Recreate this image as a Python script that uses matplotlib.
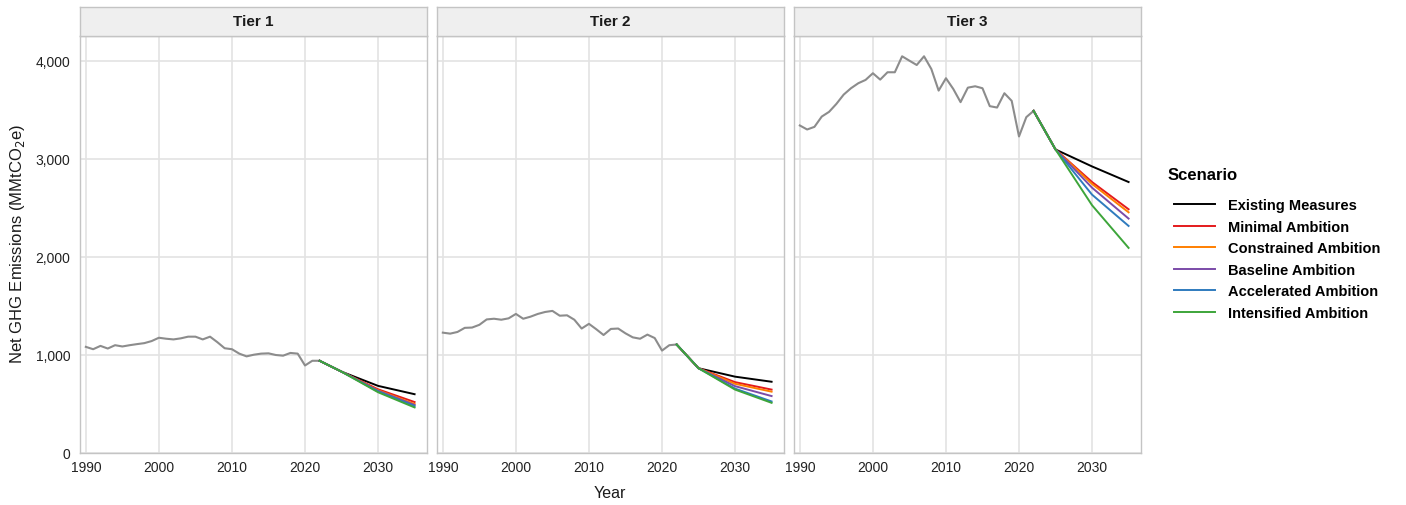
import numpy as np
import matplotlib
matplotlib.use("Agg")
import matplotlib.pyplot as plt
from matplotlib.ticker import FuncFormatter

plt.rcParams['font.family'] = ['Liberation Sans', 'DejaVu Sans']

# historical net emissions 1990-2022 (MMtCO2e)
hist_years = list(range(1990, 2023))
tier1_hist = [1083, 1059, 1093, 1066, 1100, 1087, 1100, 1111, 1121, 1142,
              1176, 1166, 1159, 1170, 1187, 1187, 1159, 1187, 1131, 1069,
              1059, 1014, 986, 1003, 1014, 1017, 1000, 993, 1021, 1014,
              893, 941, 941]
tier2_hist = [1228, 1218, 1235, 1277, 1280, 1308, 1363, 1370, 1360, 1374,
              1419, 1370, 1391, 1419, 1439, 1450, 1401, 1405, 1360, 1270,
              1318, 1263, 1204, 1266, 1270, 1221, 1180, 1166, 1208, 1173,
              1045, 1100, 1107]
tier3_hist = [3342, 3301, 3328, 3433, 3481, 3562, 3657, 3722, 3773, 3807,
              3875, 3810, 3885, 3885, 4048, 4003, 3959, 4048, 3918, 3698,
              3824, 3715, 3580, 3728, 3742, 3722, 3539, 3525, 3671, 3593,
              3230, 3427, 3491]

# projections: 2022, 2025, 2030, 2035
proj_years = [2022, 2025, 2030, 2035]
scenarios = ["Existing Measures", "Minimal Ambition", "Constrained Ambition",
             "Baseline Ambition", "Accelerated Ambition", "Intensified Ambition"]
colors = ["#000000", "#E41A1C", "#FF7F00", "#7B4BA8", "#2F7BBE", "#3DA53A"]

tier1_proj = {
    "Existing Measures":    [941, 830, 685, 600],
    "Minimal Ambition":     [941, 830, 650, 520],
    "Constrained Ambition": [941, 830, 640, 500],
    "Baseline Ambition":    [941, 830, 635, 490],
    "Accelerated Ambition": [941, 830, 628, 478],
    "Intensified Ambition": [941, 830, 620, 465],
}
tier2_proj = {
    "Existing Measures":    [1107, 865, 779, 727],
    "Minimal Ambition":     [1107, 865, 723, 647],
    "Constrained Ambition": [1107, 865, 706, 626],
    "Baseline Ambition":    [1107, 865, 682, 581],
    "Accelerated Ambition": [1107, 865, 657, 526],
    "Intensified Ambition": [1107, 865, 647, 512],
}
tier3_proj = {
    "Existing Measures":    [3491, 3097, 2924, 2765],
    "Minimal Ambition":     [3491, 3097, 2765, 2487],
    "Constrained Ambition": [3491, 3097, 2745, 2456],
    "Baseline Ambition":    [3491, 3097, 2707, 2392],
    "Accelerated Ambition": [3491, 3097, 2636, 2317],
    "Intensified Ambition": [3491, 3097, 2528, 2093],
}

tiers = ["Tier 1", "Tier 2", "Tier 3"]
hist_all = [tier1_hist, tier2_hist, tier3_hist]
proj_all = [tier1_proj, tier2_proj, tier3_proj]

W, H = 1406, 506
fig = plt.figure(figsize=(W / 100, H / 100), dpi=100)

panel_left = [80, 437, 794]
panel_w = 347
top, bottom = 37, 454
strip_top = 8

grid_c = "#E3E3E3"
border_c = "#C4C4C4"

for i, tier in enumerate(tiers):
    x0 = panel_left[i]
    ax = fig.add_axes([x0 / W, (H - bottom) / H, panel_w / W, (bottom - top) / H])
    ax.plot(hist_years, hist_all[i], color="#8C8C8C", lw=1.5, zorder=3)
    for name, c in zip(scenarios, colors):
        ax.plot(proj_years, proj_all[i][name], color=c, lw=1.4, zorder=4)
    ax.set_xlim(1989.2, 2036.7)
    ax.set_ylim(0, 4255)
    ax.set_xticks([1990, 2000, 2010, 2020, 2030])
    ax.set_yticks([0, 1000, 2000, 3000, 4000])
    ax.grid(True, color=grid_c, lw=1.2)
    ax.set_axisbelow(True)
    ax.tick_params(length=0, labelsize=10, colors="#222222", pad=5)
    ax.tick_params(axis="y", pad=7)
    ax.yaxis.set_major_formatter(FuncFormatter(lambda v, p: f"{int(v):,}"))
    if i > 0:
        ax.tick_params(labelleft=False)
    for s in ax.spines.values():
        s.set_color(border_c)
        s.set_linewidth(1.0)

    # facet strip
    sax = fig.add_axes([x0 / W, (H - top) / H, panel_w / W, (top - strip_top) / H])
    sax.set_facecolor("#EFEFEF")
    sax.set_xticks([])
    sax.set_yticks([])
    for s in sax.spines.values():
        s.set_color(border_c)
        s.set_linewidth(1.0)
    sax.text(0.5, 0.5, tier, ha="center", va="center", fontsize=11,
             fontweight="bold", color="#1A1A1A", transform=sax.transAxes)

fig.text(610 / W, 1 - 494 / H, "Year", ha="center", va="center", fontsize=11.5,
         color="#1A1A1A")
fig.text(18 / W, 1 - 244 / H, "Net GHG Emissions (MMtCO$_2$e)", ha="center",
         va="center", rotation=90, fontsize=12, color="#1A1A1A")

# legend
fig.text(1168 / W, 1 - 176 / H, "Scenario", ha="left", va="center",
         fontsize=12, fontweight="bold", color="#000000")
handles = [plt.Line2D([], [], color=c, lw=1.4) for c in colors]
leg = fig.legend(handles, scenarios, loc="upper left",
                 bbox_to_anchor=(1161 / W, 1 - 186 / H), frameon=False,
                 handlelength=2.8, handletextpad=0.9, labelspacing=0.52,
                 prop={"weight": "bold", "size": 10.5})

fig.savefig("out.png", dpi=100)
